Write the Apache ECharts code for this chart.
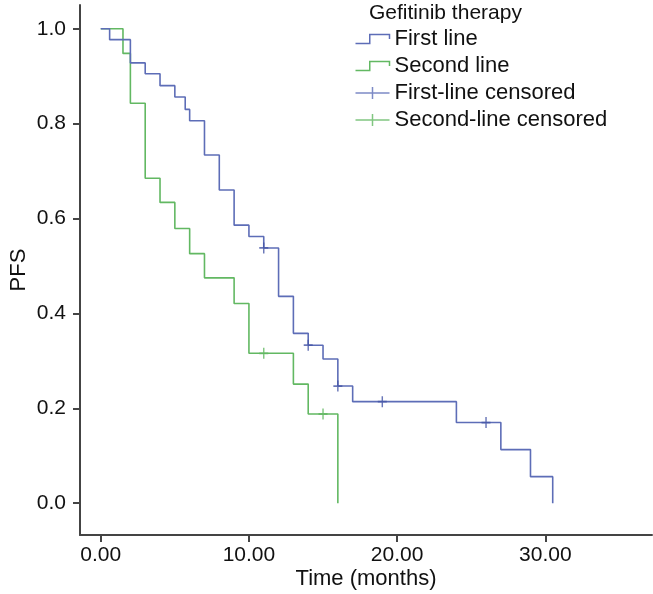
<!DOCTYPE html>
<html>
<head>
<meta charset="utf-8">
<script src="https://cdn.jsdelivr.net/npm/echarts@6/dist/echarts.min.js"></script>
<style>
html,body{margin:0;padding:0;background:#fff;}
#chart{width:653px;height:594px;}
</style>
</head>
<body>
<div id="chart"></div>
<script>
// Kaplan-Meier PFS data
var firstLineTimes  = [0, 0.6, 2.0, 3.0, 4.0, 5.0, 5.7, 6.0, 7.0, 8.0, 9.0, 10.0, 11.0, 12.0, 13.0, 14.0, 15.0, 16.0, 17.0, 24.0, 27.0, 29.0, 30.5];
var firstLineValues = [1.0, 0.977, 0.928, 0.905, 0.88, 0.856, 0.83, 0.806, 0.734, 0.66, 0.586, 0.562, 0.538, 0.436, 0.358, 0.333, 0.304, 0.247, 0.214, 0.17, 0.113, 0.056, 0.0];
var secondLineTimes  = [0, 1.5, 2.0, 3.0, 4.0, 5.0, 6.0, 7.0, 9.0, 10.0, 13.0, 14.0, 16.0];
var secondLineValues = [1.0, 0.948, 0.843, 0.685, 0.634, 0.579, 0.526, 0.475, 0.421, 0.316, 0.251, 0.188, 0.0];
var firstCensorTimes  = [11.0, 14.0, 16.0, 19.0, 26.0];
var firstCensorValues = [0.538, 0.333, 0.247, 0.214, 0.17];
var secondCensorTimes  = [11.0, 15.0];
var secondCensorValues = [0.316, 0.188];
var xTickValues = [0, 10, 20, 30];
var yTickValues = [0, 0.2, 0.4, 0.6, 0.8, 1.0];
var seriesNames = ['First line', 'Second line', 'First-line censored', 'Second-line censored'];
var legendTitle = 'Gefitinib therapy';

function pairs(xs, ys){ return xs.map(function(x,i){ return [x, ys[i]]; }); }

var BLUE = '#5d6db7';
var BLUE_DARK = '#4555a6';
var GREEN = '#62b862';
var FONT = 'Liberation Sans, Arial, sans-serif';
var stepIcon = 'path://M0,10 L13,10 L13,2 L31,2 L31,6';
var plusIcon = 'path://M0,6 L34,6 M17,0 L17,12';
var plusSym = 'path://M0,5 L10,5 M5,0 L5,10';

var chart = echarts.init(document.getElementById('chart'));
chart.setOption({
  animation: false,
  backgroundColor: '#fff',
  title: {
    text: legendTitle, left: 369, top: 3, padding: 0,
    textStyle: {fontFamily: FONT, fontSize: 21, fontWeight: 'normal', color: '#111'}
  },
  legend: {
    orient: 'vertical', left: 353, top: 28, padding: 0,
    itemWidth: 34, itemHeight: 12, itemGap: 5,
    textStyle: {fontFamily: FONT, fontSize: 22, color: '#111', padding: [0,0,0,0]},
    data: [
      {name: seriesNames[0], icon: stepIcon, itemStyle: {color: 'none', borderColor: BLUE, borderWidth: 1.5}},
      {name: seriesNames[1], icon: stepIcon, itemStyle: {color: 'none', borderColor: GREEN, borderWidth: 1.5}},
      {name: seriesNames[2], icon: plusIcon, itemStyle: {color: 'none', borderColor: BLUE, borderWidth: 1.5}},
      {name: seriesNames[3], icon: plusIcon, itemStyle: {color: 'none', borderColor: GREEN, borderWidth: 1.5}}
    ]
  },
  grid: {left: 80, right: 1, top: 5, bottom: 59, containLabel: false, outerBoundsMode: 'none'},
  xAxis: {
    type: 'value', min: -1.4, max: 37.2,
    name: 'Time (months)', nameLocation: 'middle', nameGap: 33, nameMoveOverlap: false,
    nameTextStyle: {fontFamily: FONT, fontSize: 22, color: '#111'},
    axisLine: {show: true, onZero: false, lineStyle: {color: '#444', width: 2}},
    axisTick: {show: true, length: 7, lineStyle: {color: '#444', width: 2}, customValues: xTickValues},
    axisLabel: {fontFamily: FONT, fontSize: 21, color: '#111', margin: 10, customValues: xTickValues,
      formatter: function(v){ return v.toFixed(2); }},
    splitLine: {show: false}
  },
  yAxis: {
    type: 'value', min: -0.067, max: 1.05,
    name: 'PFS', nameLocation: 'middle', nameGap: 50, nameRotate: 90, nameMoveOverlap: false,
    nameTextStyle: {fontFamily: FONT, fontSize: 22, color: '#111'},
    axisLine: {show: true, onZero: false, lineStyle: {color: '#444', width: 2}},
    axisTick: {show: true, length: 7, lineStyle: {color: '#444', width: 2}, customValues: yTickValues},
    axisLabel: {fontFamily: FONT, fontSize: 21, color: '#111', margin: 14, customValues: yTickValues,
      formatter: function(v){ return v.toFixed(1); }},
    splitLine: {show: false}
  },
  series: [
    {name: seriesNames[0], type: 'line', step: 'end', showSymbol: false, symbol: 'none',
      color: BLUE, lineStyle: {color: BLUE, width: 1.6}, data: pairs(firstLineTimes, firstLineValues), z: 3},
    {name: seriesNames[1], type: 'line', step: 'end', showSymbol: false, symbol: 'none',
      color: GREEN, lineStyle: {color: GREEN, width: 1.6}, data: pairs(secondLineTimes, secondLineValues), z: 2},
    {name: seriesNames[2], type: 'scatter', symbol: plusSym, symbolSize: [9, 11],
      itemStyle: {color: 'none', borderColor: BLUE_DARK, borderWidth: 1.6}, data: pairs(firstCensorTimes, firstCensorValues), z: 4},
    {name: seriesNames[3], type: 'scatter', symbol: plusSym, symbolSize: [9, 11],
      itemStyle: {color: 'none', borderColor: GREEN, borderWidth: 1.6}, data: pairs(secondCensorTimes, secondCensorValues), z: 4}
  ]
});
</script>
</body>
</html>
